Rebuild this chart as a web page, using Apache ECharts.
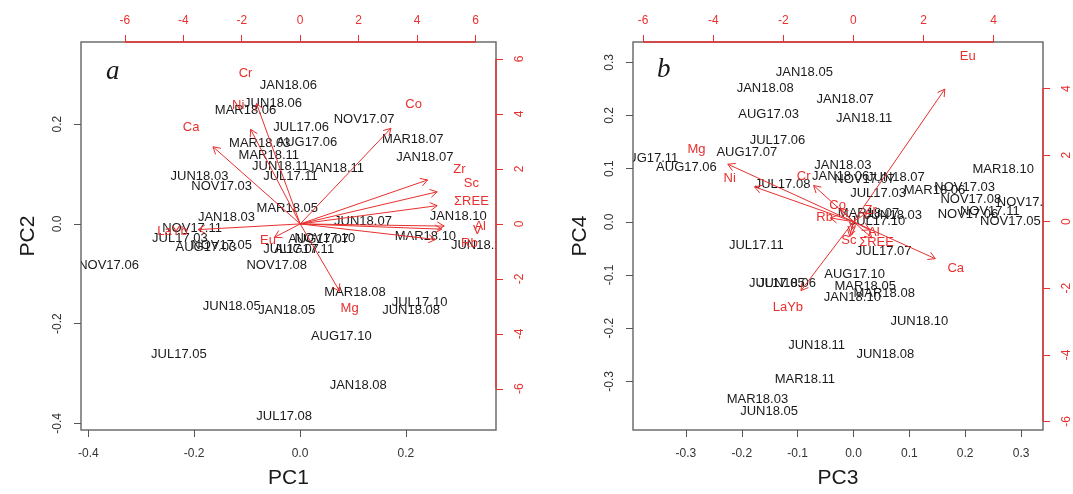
<!DOCTYPE html>
<html>
<head>
<meta charset="utf-8">
<script src="https://cdn.jsdelivr.net/npm/echarts/dist/echarts.min.js"></script>
<style>
  html, body { margin: 0; padding: 0; background: #fff; }
  #chart { width: 1073px; height: 494px; }
</style>
</head>
<body>
<div id="chart"></div>
<script>
// sample scores (same order for all four components)
var sampleNames = ['JAN18.06','JUN18.06','MAR18.06','JUL17.06','MAR18.03','AUG17.06','MAR18.11','JUN18.11','JAN18.11','JUL17.11',
  'JUN18.03','NOV17.03','MAR18.05','JAN18.03','NOV17.11','JUL17.03','AUG17.03','NOV17.05','NOV17.06','NOV17.08',
  'NOV17.10','AUG17.07','JUL17.07','AUG17.11','NOV17.07','MAR18.07','JAN18.07','JUN18.07','JAN18.10','MAR18.10',
  'JUN18.10','MAR18.08','JUL17.10','JUN18.08','JAN18.05','JUN18.05','AUG17.10','JUL17.05','JAN18.08','JUL17.08'];
var pc1 = [-0.022,-0.051,-0.103,0.002,-0.076,0.013,-0.059,-0.037,0.068,-0.018,
  -0.190,-0.148,-0.024,-0.139,-0.204,-0.227,-0.178,-0.148,-0.362,-0.044,
  0.047,0.035,-0.017,0.008,0.121,0.213,0.236,0.119,0.299,0.237,
  0.340,0.104,0.226,0.210,-0.025,-0.129,0.078,-0.229,0.110,-0.030];
var pc2 = [0.277,0.242,0.227,0.194,0.161,0.164,0.137,0.115,0.111,0.095,
  0.095,0.075,0.031,0.012,-0.009,-0.030,-0.048,-0.043,-0.083,-0.083,
  -0.029,-0.031,-0.051,-0.051,0.210,0.170,0.134,0.005,0.015,-0.025,
  -0.043,-0.137,-0.157,-0.173,-0.173,-0.165,-0.225,-0.261,-0.325,-0.387];
var pc3 = [-0.023,-0.119,0.145,-0.136,-0.172,-0.299,-0.087,-0.066,0.019,-0.174,
  0.071,0.199,0.021,-0.019,0.244,0.044,-0.152,0.281,0.205,0.210,
  0.311,-0.191,0.054,-0.367,0.020,0.027,-0.015,0.076,-0.002,0.268,
  0.118,0.055,0.043,0.057,-0.088,-0.151,0.002,-0.137,-0.158,-0.127];
var pc4 = [0.086,-0.116,0.059,0.154,-0.335,0.102,-0.296,-0.232,0.195,-0.045,
  0.012,0.065,-0.121,0.107,0.020,0.053,0.203,0.001,0.014,0.043,
  0.036,0.130,-0.055,0.119,0.079,0.015,0.231,0.083,-0.143,0.098,
  -0.187,-0.135,0.000,-0.250,0.281,-0.357,-0.099,-0.116,0.251,0.071];

// variable loadings (label positions, on the red axes)
var varNames = ['Cr','Ni','Ca','Co','Zr','Sc','\u03a3REE','Al','V','Rb','Eu','LaYb','Mg'];
var loadA1 = [-1.87,-2.12,-3.73,3.88,5.45,5.86,5.86,6.16,6.06,5.79,-1.10,-4.37,1.69];
var loadA2 = [5.48,4.30,3.51,4.35,2.00,1.46,0.83,-0.10,-0.24,-0.71,-0.61,-0.26,-3.07];
var loadB3 = [-1.42,-3.53,2.92,-0.45,0.49,-0.13,0.66,0.58,-0.05,-0.82,3.26,-1.87,-4.48];
var loadB4 = [1.36,1.31,-1.39,0.50,0.34,-0.56,-0.61,-0.31,-0.28,0.14,4.98,-2.59,2.16];

// tick labels
var ticksPC1 = [-0.4,-0.2,0,0.2];
var ticksPC2 = [-0.4,-0.2,0,0.2];
var ticksPC3 = [-0.3,-0.2,-0.1,0,0.1,0.2,0.3];
var ticksPC4 = [-0.3,-0.2,-0.1,0,0.1,0.2,0.3];
var ticksRedA = [-6,-4,-2,0,2,4,6];
var ticksRedB = [-6,-4,-2,0,2,4];

var RED = '#e8302e';
var BLACK = '#1a1a1a';
var FONT = 'Liberation Sans';

var chart = echarts.init(document.getElementById('chart'));

function zip(a, b) {
  return a.map(function (v, i) { return [v, b[i]]; });
}

function primaryX(grid, min, max, ticks, name) {
  return {
    type: 'value', gridIndex: grid, position: 'bottom', min: min, max: max,
    name: name, nameLocation: 'middle', nameGap: 38,
    nameTextStyle: { fontSize: 21, color: BLACK, fontFamily: FONT },
    axisLine: { show: false, onZero: false },
    axisTick: { show: true, length: 7, inside: false, customValues: ticks, lineStyle: { color: '#555' } },
    axisLabel: { customValues: ticks, margin: 18, fontSize: 12, color: '#333', fontFamily: FONT,
      formatter: function (v) { return v.toFixed(1); } },
    splitLine: { show: false }
  };
}
function primaryY(grid, min, max, ticks, name) {
  return {
    type: 'value', gridIndex: grid, position: 'left', min: min, max: max,
    name: name, nameLocation: 'middle', nameGap: 42, nameRotate: 90,
    nameTextStyle: { fontSize: 21, color: BLACK, fontFamily: FONT },
    axisLine: { show: false, onZero: false },
    axisTick: { show: true, length: 7, customValues: ticks, lineStyle: { color: '#555' } },
    axisLabel: { customValues: ticks, margin: 17, rotate: 90, fontSize: 12, color: '#333', fontFamily: FONT,
      formatter: function (v) { return v.toFixed(1); } },
    splitLine: { show: false }
  };
}
function redX(grid, min, max, ticks) {
  return {
    type: 'value', gridIndex: grid, position: 'top', min: min, max: max,
    axisLine: { show: false, onZero: false },
    axisTick: { show: true, length: 7, customValues: ticks, lineStyle: { color: RED } },
    axisLabel: { customValues: ticks, margin: 15, fontSize: 12, color: RED, fontFamily: FONT },
    splitLine: { show: false }
  };
}
function redY(grid, min, max, ticks) {
  return {
    type: 'value', gridIndex: grid, position: 'right', min: min, max: max,
    axisLine: { show: false, onZero: false },
    axisTick: { show: true, length: 7, customValues: ticks, lineStyle: { color: RED } },
    axisLabel: { customValues: ticks, margin: 18, rotate: 90, fontSize: 12, color: RED, fontFamily: FONT },
    splitLine: { show: false }
  };
}

// sample names drawn as text at their scores
function sampleSeries(xi, yi, xs, ys) {
  return {
    type: 'custom', coordinateSystem: 'cartesian2d', xAxisIndex: xi, yAxisIndex: yi, clip: true, z: 3,
    data: zip(xs, ys),
    renderItem: function (params, api) {
      var p = api.coord([api.value(0), api.value(1)]);
      return {
        type: 'text', x: p[0], y: p[1],
        style: { text: sampleNames[params.dataIndex], fill: BLACK, fontSize: 13, fontFamily: FONT,
          align: 'center', verticalAlign: 'middle' }
      };
    }
  };
}

// arrows to 0.8 of the loading, label at the loading (as R biplot does)
function arrowSeries(xi, yi, xs, ys) {
  return {
    type: 'custom', coordinateSystem: 'cartesian2d', xAxisIndex: xi, yAxisIndex: yi, clip: true, z: 5,
    data: zip(xs, ys),
    renderItem: function (params, api) {
      var x = api.value(0), y = api.value(1);
      var o = api.coord([0, 0]);
      var t = api.coord([x * 0.8, y * 0.8]);
      var l = api.coord([x, y]);
      var ang = Math.atan2(t[1] - o[1], t[0] - o[0]);
      var len = 8;
      var h1 = [t[0] - len * Math.cos(ang - Math.PI / 6), t[1] - len * Math.sin(ang - Math.PI / 6)];
      var h2 = [t[0] - len * Math.cos(ang + Math.PI / 6), t[1] - len * Math.sin(ang + Math.PI / 6)];
      var ls = { stroke: RED, lineWidth: 1, fill: null };
      return {
        type: 'group',
        children: [
          { type: 'line', shape: { x1: o[0], y1: o[1], x2: t[0], y2: t[1] }, style: ls },
          { type: 'polyline', shape: { points: [h1, t, h2] }, style: ls },
          { type: 'text', x: l[0], y: l[1],
            style: { text: varNames[params.dataIndex], fill: RED, fontSize: 13, fontFamily: FONT,
              align: 'center', verticalAlign: 'middle' } }
        ]
      };
    }
  };
}

// red axis lines only between first and last tick
function redLineSeries(xi, yi, ticks) {
  return {
    type: 'custom', coordinateSystem: 'cartesian2d', xAxisIndex: xi, yAxisIndex: yi, z: 6, silent: true,
    data: [[ticks[0], ticks[ticks.length - 1]]],
    renderItem: function (params, api) {
      var cs = params.coordSys;
      var a = api.value(0), b = api.value(1);
      var xa = api.coord([a, 0])[0], xb = api.coord([b, 0])[0];
      var ya = api.coord([0, a])[1], yb = api.coord([0, b])[1];
      var st = { stroke: RED, lineWidth: 1.3 };
      return {
        type: 'group',
        children: [
          { type: 'line', shape: { x1: xa, y1: cs.y, x2: xb, y2: cs.y }, style: st },
          { type: 'line', shape: { x1: cs.x + cs.width, y1: ya, x2: cs.x + cs.width, y2: yb }, style: st }
        ]
      };
    }
  };
}

var option = {
  backgroundColor: '#fff',
  animation: false,
  grid: [
    { left: 81, top: 42, width: 415, height: 389, show: true, borderColor: '#6e6e6e', borderWidth: 1.5, backgroundColor: 'transparent' },
    { left: 633, top: 42, width: 416, height: 389, show: true, borderColor: '#6e6e6e', borderWidth: 1.5, backgroundColor: 'transparent' }
  ],
  xAxis: [
    primaryX(0, -0.414, 0.3705, ticksPC1, 'PC1'),
    redX(0, -7.5, 6.7, ticksRedA),
    primaryX(1, -0.3947, 0.3393, ticksPC3, 'PC3'),
    redX(1, -6.29, 5.41, ticksRedB)
  ],
  yAxis: [
    primaryY(0, -0.4134, 0.3646, ticksPC2, 'PC2'),
    redY(0, -7.5, 6.62, ticksRedA),
    primaryY(1, -0.3916, 0.3383, ticksPC4, 'PC4'),
    redY(1, -6.26, 5.40, ticksRedB)
  ],
  graphic: [
    { type: 'text', left: 106, top: 58, style: { text: 'a', fill: BLACK, font: 'italic 27px "Liberation Serif"' } },
    { type: 'text', left: 657, top: 56, style: { text: 'b', fill: BLACK, font: 'italic 27px "Liberation Serif"' } }
  ],
  series: [
    sampleSeries(0, 0, pc1, pc2),
    arrowSeries(1, 1, loadA1, loadA2),
    redLineSeries(1, 1, ticksRedA),
    sampleSeries(2, 2, pc3, pc4),
    arrowSeries(3, 3, loadB3, loadB4),
    redLineSeries(3, 3, ticksRedB)
  ]
};

chart.setOption(option);
</script>
</body>
</html>
